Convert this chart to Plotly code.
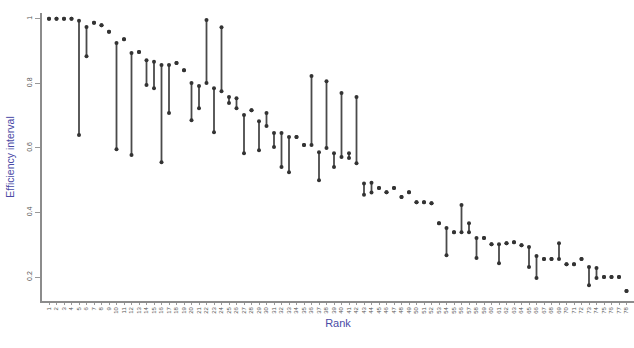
import plotly.graph_objects as go

# Units ordered by rank, with lower and upper efficiency bounds
ranks = list(range(1, 79))
rank_labels = [str(r) for r in ranks]

upper = [1.000, 1.000, 1.000, 1.000, 0.994, 0.975, 0.988, 0.980, 0.960, 0.925,
         0.937, 0.894, 0.897, 0.872, 0.867, 0.857, 0.857, 0.863, 0.841, 0.801,
         0.792, 0.996, 0.785, 0.974, 0.758, 0.754, 0.702, 0.717, 0.683, 0.708,
         0.646, 0.646, 0.634, 0.634, 0.609, 0.823, 0.587, 0.807, 0.584, 0.770,
         0.584, 0.758, 0.490, 0.492, 0.476, 0.463, 0.476, 0.448, 0.463, 0.432,
         0.432, 0.429, 0.367, 0.352, 0.339, 0.423, 0.367, 0.321, 0.321, 0.302,
         0.302, 0.305, 0.308, 0.299, 0.293, 0.265, 0.256, 0.256, 0.305, 0.240,
         0.240, 0.256, 0.231, 0.228, 0.200, 0.200, 0.200, 0.157]

lower = [1.000, 1.000, 1.000, 1.000, 0.640, 0.884, 0.988, 0.980, 0.960, 0.596,
         0.937, 0.578, 0.897, 0.795, 0.785, 0.556, 0.708, 0.863, 0.841, 0.686,
         0.723, 0.801, 0.649, 0.776, 0.739, 0.723, 0.584, 0.717, 0.593, 0.668,
         0.603, 0.541, 0.525, 0.634, 0.609, 0.609, 0.500, 0.600, 0.541, 0.572,
         0.569, 0.553, 0.455, 0.462, 0.476, 0.463, 0.476, 0.448, 0.463, 0.432,
         0.432, 0.429, 0.367, 0.268, 0.339, 0.339, 0.339, 0.259, 0.321, 0.302,
         0.243, 0.305, 0.308, 0.299, 0.231, 0.197, 0.256, 0.256, 0.256, 0.240,
         0.240, 0.256, 0.175, 0.197, 0.200, 0.200, 0.200, 0.157]

y_ticks = [1.0, 0.8, 0.6, 0.4, 0.2]
y_tick_text = ["1", "0.8", "0.6", "0.4", "0.2"]

# vertical interval segments
seg_x, seg_y = [], []
for r, lo, up in zip(ranks, lower, upper):
    if up > lo:
        seg_x += [r, r, None]
        seg_y += [lo, up, None]

fig = go.Figure()
fig.add_trace(go.Scatter(
    x=seg_x, y=seg_y, mode="lines",
    line=dict(color="#4a4a4a", width=1.8),
    hoverinfo="skip", showlegend=False,
))
fig.add_trace(go.Scatter(
    x=ranks + ranks, y=upper + lower, mode="markers",
    marker=dict(color="#333333", size=4, symbol="circle"),
    showlegend=False,
))

title_color = "#4a4aa6"
fig.update_layout(
    width=634, height=348,
    margin=dict(l=42, r=0, t=13, b=47),
    paper_bgcolor="white", plot_bgcolor="white",
    font=dict(family="Liberation Sans, Arial, sans-serif", color="#444444"),
    xaxis=dict(
        range=[0.067, 79],
        tickmode="array", tickvals=ranks, ticktext=rank_labels,
        tickangle=-90, tickfont=dict(size=6, color="#555555"),
        ticks="outside", ticklen=2, tickcolor="#999999",
        showline=True, linecolor="#8c8c8c", linewidth=1.5,
        showgrid=False, zeroline=False,
        title=dict(text="Rank", font=dict(size=11, color=title_color), standoff=6),
    ),
    yaxis=dict(
        range=[0.126, 1.018],
        tickmode="array", tickvals=y_ticks, ticktext=y_tick_text,
        tickangle=-90, tickfont=dict(size=7, color="#555555"),
        ticks="outside", ticklen=5, tickcolor="#999999",
        showline=True, linecolor="#8c8c8c", linewidth=1.5,
        showgrid=False, zeroline=False,
        title=dict(text="Efficiency interval", font=dict(size=10.5, color=title_color), standoff=10),
    ),
)

fig.write_html("out.html")
